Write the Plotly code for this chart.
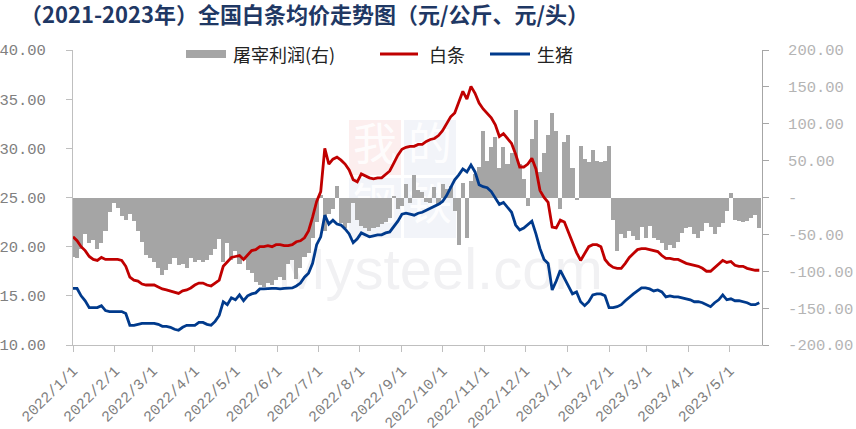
import plotly.graph_objects as go
import pandas as pd

# ---------------- data ----------------
dates = pd.date_range("2022-01-01", periods=170, freq="3D")

baitiao = [  # 白条 元/公斤
    21.0, 20.6, 20.0, 19.6, 19.0, 18.7, 18.6, 18.9, 18.7, 18.7,
    18.7, 18.7, 18.6, 18.0, 16.9, 16.6, 16.5, 16.2, 16.1, 16.1,
    16.1, 15.9, 15.7, 15.6, 15.5, 15.4, 15.25, 15.5, 15.6, 15.8,
    16.1, 16.3, 16.3, 16.1, 16.0, 16.3, 16.6, 18.0, 18.4, 18.9,
    19.0, 19.1, 18.7, 19.2, 19.6, 19.7, 20.0, 20.0, 20.1, 20.0,
    20.2, 20.2, 20.1, 20.1, 20.2, 20.5, 20.6, 20.9, 21.6, 23.0,
    24.6, 25.6, 30.0, 28.4, 28.9, 29.1, 28.8, 28.4, 27.8, 26.8,
    26.6, 27.4, 27.2, 27.0, 26.9, 27.0, 27.0, 27.4, 27.7, 28.5,
    29.3, 29.9, 30.1, 30.2, 30.2, 30.4, 30.4, 30.7, 30.9, 31.0,
    31.3, 31.8, 32.5, 33.2, 33.6, 34.7, 35.8, 35.0, 36.3, 35.6,
    34.6, 34.0, 33.6, 33.1, 32.4, 31.2, 31.5, 31.0, 30.5, 29.4,
    28.1, 28.1, 28.4, 29.0, 27.9, 25.7, 25.0, 24.5, 22.0, 21.9,
    22.7, 22.5, 21.5, 20.4, 19.4, 18.6, 19.3, 20.0, 20.2, 20.2,
    20.0, 18.7, 18.2, 17.9, 17.8, 17.8, 18.3, 18.9, 19.3, 19.7,
    19.8, 19.8, 19.7, 19.6, 19.5, 19.1, 18.8, 18.8, 18.7, 18.7,
    18.5, 18.3, 18.2, 18.1, 18.0, 17.8, 17.5, 17.5, 17.9, 18.2,
    18.6, 18.4, 18.5, 18.1, 18.0, 18.0, 17.8, 17.7, 17.6, 17.6,
]

shengzhu = [  # 生猪 元/公斤
    15.75, 15.75, 15.0, 14.5, 13.8, 13.8, 13.8, 14.0, 13.5, 13.4,
    13.4, 13.4, 13.4, 13.2, 12.0, 12.0, 12.1, 12.2, 12.2, 12.2,
    12.2, 12.1, 11.9, 11.9, 11.8, 11.6, 11.5, 11.8, 12.0, 12.0,
    12.0, 12.3, 12.3, 12.1, 12.0, 12.4, 13.0, 14.4, 14.1, 14.8,
    14.6, 15.1, 14.5, 15.0, 15.2, 15.3, 15.7, 15.7, 15.75, 15.75,
    15.75, 15.7, 15.75, 15.8, 15.8, 16.0, 16.3, 16.9, 17.3, 18.3,
    20.2, 21.0, 23.2, 22.3, 22.7, 22.3, 22.2, 21.8, 21.3, 20.4,
    20.8, 21.4, 21.2, 21.0, 21.1, 21.2, 21.2, 21.4, 21.5, 22.0,
    22.6, 23.3, 23.4, 23.3, 23.2, 23.4, 23.5, 23.7, 23.9, 24.1,
    24.3, 24.6, 25.2, 26.0, 26.8, 27.3, 27.9, 27.6, 28.3, 27.6,
    26.3, 26.1, 26.0, 25.6, 25.0, 24.3, 24.5, 24.0, 23.5, 22.2,
    21.7, 21.9, 22.3, 22.6, 21.3, 19.8, 18.7, 18.3, 15.6, 16.5,
    17.6, 16.8, 16.0, 15.2, 15.4, 14.4, 14.0, 14.4, 15.1, 15.2,
    15.2, 15.0, 13.8, 13.8, 13.9, 14.1, 14.5, 14.9, 15.2, 15.5,
    15.8, 15.8, 15.7, 15.5, 15.6, 15.4, 14.9, 15.0, 14.9, 14.9,
    14.8, 14.7, 14.6, 14.4, 14.4, 14.3, 14.1, 13.9, 14.3, 14.6,
    15.1, 14.6, 14.7, 14.5, 14.5, 14.4, 14.3, 14.1, 14.1, 14.3,
]

profit = [  # 屠宰利润(右) 元/头
    -80, -82, -70, -50, -62, -58, -70, -62, -45, -20,
    -8, -14, -25, -30, -22, -32, -45, -60, -78, -82,
    -88, -95, -105, -98, -90, -82, -92, -90, -95, -82,
    -88, -85, -88, -85, -78, -70, -56, -88, -62, -85,
    -72, -90, -85, -98, -102, -115, -118, -121, -116, -119,
    -112, -108, -112, -90, -85, -110, -95, -80, -75, -55,
    -33, 3, -45, -22, -15, 15, -35, -42, -35, -8,
    -30, -38, -42, -45, -42, -40, -36, -33, -28, 2,
    -15, -12, 18, -8, 30, 10, 8, -6, -8, 14,
    -10, 18, 12, 15, -18, -65, 20, -55, 22, 32,
    42, 90, 50, 68, 82, 40, 68, 45, 60, 118,
    45, 25, -12, 80, 105, 35, 60, 85, 115, 90,
    -15, 75, 85, 40, -3, 70, 52, 48, 65, 50,
    48, 50, 70, -30, -72, -50, -55, -45, -52, -58,
    -40, -55, -38, -55, -57, -62, -71, -65, -68, -60,
    -48, -42, -40, -50, -55, -45, -35, -40, -50, -40,
    -35, -18, 6, -30, -32, -33, -32, -28, -24, -42,
]

x_tick_vals = ["2022-01-01", "2022-02-01", "2022-03-01", "2022-04-01", "2022-05-01",
               "2022-06-01", "2022-07-01", "2022-08-01", "2022-09-01", "2022-10-01",
               "2022-11-01", "2022-12-01", "2023-01-01", "2023-02-01", "2023-03-01",
               "2023-04-01", "2023-05-01"]
x_tick_text = ["2022/1/1", "2022/2/1", "2022/3/1", "2022/4/1", "2022/5/1",
               "2022/6/1", "2022/7/1", "2022/8/1", "2022/9/1", "2022/10/1",
               "2022/11/1", "2022/12/1", "2023/1/1", "2023/2/1", "2023/3/1",
               "2023/4/1", "2023/5/1"]
left_tick_vals = [10, 15, 20, 25, 30, 35, 40]
left_tick_text = ["10.00", "15.00", "20.00", "25.00", "30.00", "35.00", "40.00"]
right_tick_vals = [-200, -150, -100, -50, 0, 50, 100, 150, 200]
right_tick_text = ["-200.00", "-150.00", "-100.00", "-50.00", "-", "50.00", "100.00", "150.00", "200.00"]

title_text = "（2021-2023年）全国白条均价走势图（元/公斤、元/头）"
names = ["屠宰利润(右)", "白条", "生猪"]

# ---------------- figure ----------------
W, H = 856, 429
L, R, T, B = 73, 762, 50, 345


def px(x):
    return (x - L) / (R - L)


def py(y):
    return (B - y) / (B - T)


GRAY = "#a5a5a5"
RED = "#c00000"
BLUE = "#003a8c"
MONO = "Liberation Mono, DejaVu Sans Mono, monospace"
CJK = "Noto Sans CJK SC, Noto Sans, sans-serif"

fig = go.Figure()
fig.add_trace(go.Bar(x=dates, y=profit, name=names[0], marker=dict(color=GRAY, line=dict(width=0)),
                     yaxis="y", showlegend=False))
fig.add_trace(go.Scatter(x=dates, y=baitiao, name=names[1], mode="lines",
                         line=dict(color=RED, width=2.8), yaxis="y2", showlegend=False))
fig.add_trace(go.Scatter(x=dates, y=shengzhu, name=names[2], mode="lines",
                         line=dict(color=BLUE, width=2.8), yaxis="y2", showlegend=False))

shapes = []
annotations = []

# watermark (behind data)
wm = [
    (349, 120, 401, 175, "rgba(230,90,90,0.10)", "我"),
    (404, 120, 456, 175, "rgba(70,100,170,0.07)", "的"),
    (349, 178, 401, 238, "rgba(70,100,170,0.07)", "钢"),
    (404, 178, 456, 238, "rgba(70,100,170,0.07)", "铁"),
]
for x0, y0, x1, y1, c, t in wm:
    shapes.append(dict(type="rect", xref="paper", yref="paper", x0=px(x0), x1=px(x1),
                       y0=py(y1), y1=py(y0), fillcolor=c, line=dict(width=0), layer="below",
                       label=dict(text=t, font=dict(size=44, color="rgba(255,255,255,0.9)", family=CJK),
                                  textposition="middle center")))
shapes.append(dict(type="rect", xref="paper", yref="paper", x0=px(300), x1=px(580),
                   y0=py(295), y1=py(232), fillcolor="rgba(0,0,0,0)", line=dict(width=0), layer="below",
                   label=dict(text="Mysteel.com", font=dict(size=58, color="#f1f1f3",
                                                             family="Liberation Sans, Arial"),
                              textposition="middle center")))

# legend drawn manually
shapes.append(dict(type="rect", xref="paper", yref="paper", x0=px(186), x1=px(226),
                   y0=py(58), y1=py(50), fillcolor=GRAY, line=dict(width=0)))
shapes.append(dict(type="line", xref="paper", yref="paper", x0=px(380), x1=px(418),
                   y0=py(54), y1=py(54), line=dict(color=RED, width=3)))
shapes.append(dict(type="line", xref="paper", yref="paper", x0=px(490), x1=px(530),
                   y0=py(54), y1=py(54), line=dict(color=BLUE, width=3)))
for xx, t in [(231, names[0]), (427, names[1]), (535, names[2])]:
    annotations.append(dict(xref="paper", yref="paper", x=px(xx), y=py(54), text=t, showarrow=False,
                            xanchor="left", yanchor="middle",
                            font=dict(size=18, color="#222222", family=CJK)))

annotations.append(dict(xref="paper", yref="paper", x=px(18), y=py(13), text="<b>" + title_text + "</b>",
                        showarrow=False, xanchor="left", yanchor="middle",
                        font=dict(size=22, color="#1f3864", family=CJK)))

fig.update_layout(
    width=W, height=H,
    margin=dict(l=L, r=W - R, t=T, b=H - B, pad=0, autoexpand=False),
    paper_bgcolor="white", plot_bgcolor="white",
    bargap=0, barmode="overlay",
    showlegend=False,
    shapes=shapes, annotations=annotations,
    xaxis=dict(type="date", range=["2022-01-01", "2023-05-25"], tickvals=x_tick_vals, ticktext=x_tick_text,
               tickangle=-45, showline=True, linecolor="#bfbfbf", linewidth=1, ticks="outside",
               ticklen=6, tickcolor="#bfbfbf", showgrid=False, zeroline=False, automargin=False,
               ticklabelstandoff=4, tickfont=dict(family=MONO, size=15, color="#808080")),
    yaxis=dict(range=[-200, 200], side="right", tickvals=right_tick_vals, ticktext=right_tick_text,
               showline=True, linecolor="#a6a6a6", linewidth=1, ticks="outside", ticklen=6,
               tickcolor="#a6a6a6", showgrid=False, zeroline=False, ticklabelstandoff=16, automargin=False,
               tickfont=dict(family=MONO, size=15.5, color="#b4b4b4")),
    yaxis2=dict(range=[10, 40], side="left", overlaying="y", tickvals=left_tick_vals,
                ticktext=left_tick_text, showline=True, linecolor="#bfbfbf", linewidth=1,
                ticks="outside", ticklen=6, tickcolor="#bfbfbf", showgrid=False, zeroline=False,
                automargin=False, ticklabelstandoff=17, tickfont=dict(family=MONO, size=15.5, color="#808080")),
)

fig.write_html("out.html", config={"displayModeBar": False},
               post_script="document.body.style.margin='0';document.body.style.overflow='hidden';")
